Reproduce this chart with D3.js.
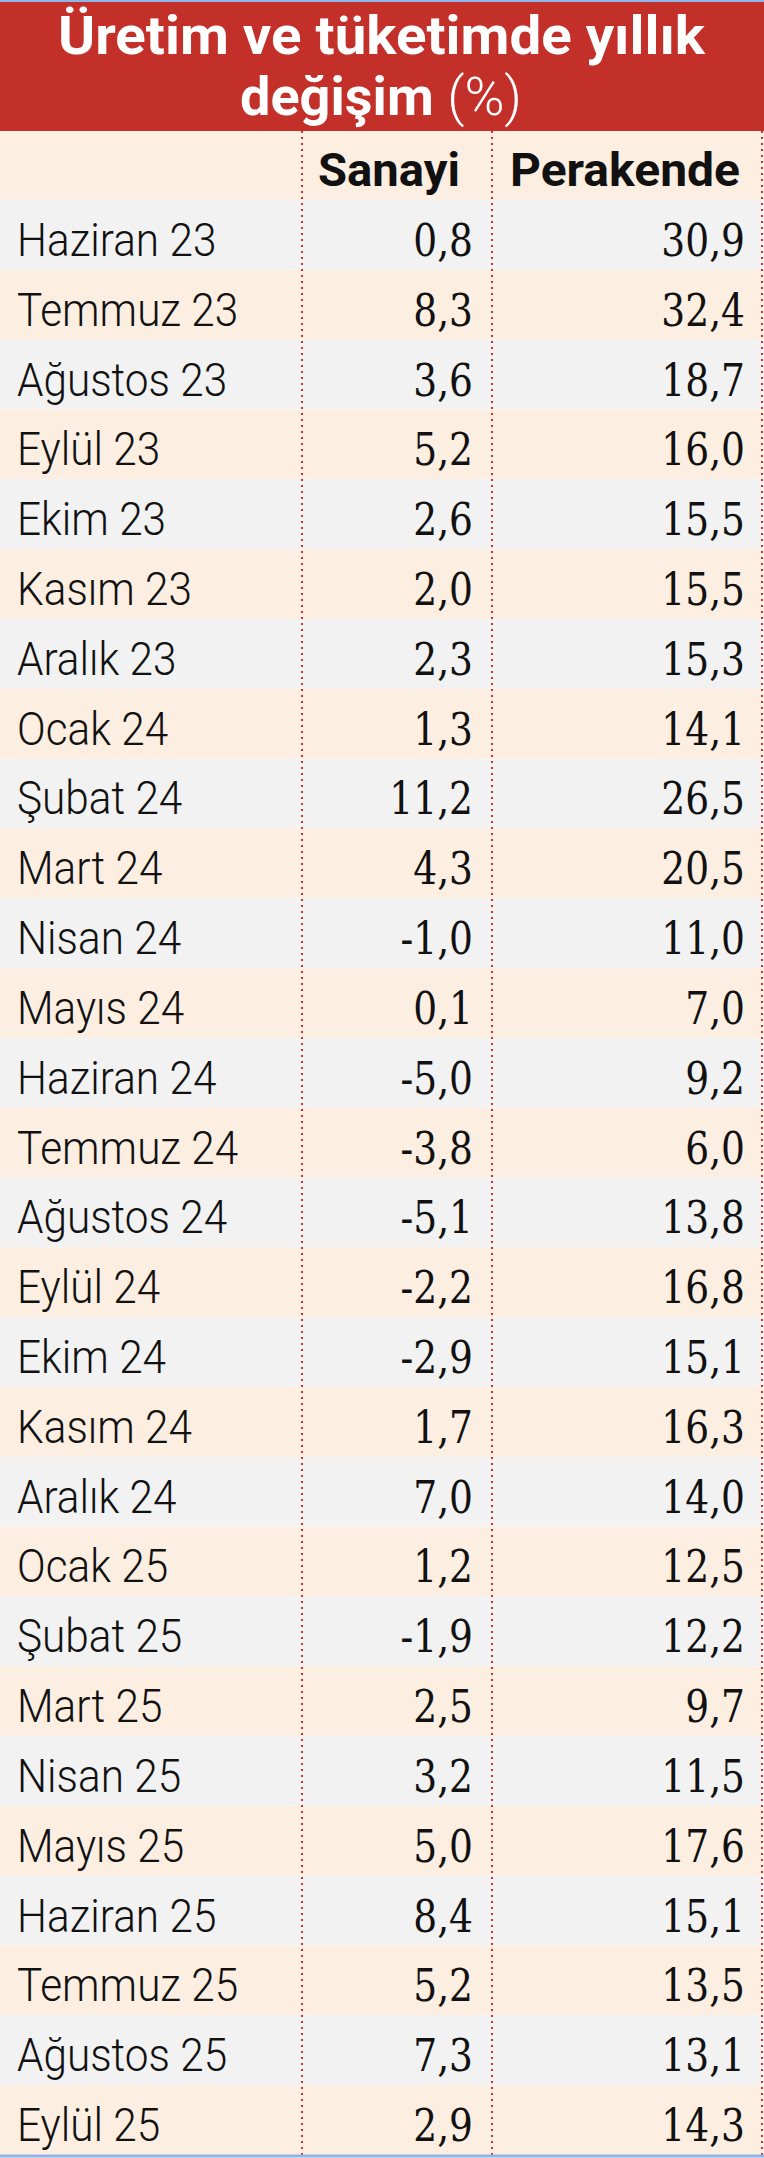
<!DOCTYPE html>
<html><head><meta charset="utf-8">
<script src="https://cdn.jsdelivr.net/npm/d3@7"></script>
<style>body{margin:0;background:#fff}</style></head>
<body><svg id="c" width="764" height="2158"></svg>
<script>
const titleLines = ["Üretim ve tüketimde yıllık", "değişim"];
const columns = ["Sanayi", "Perakende"];
const months = ["Haziran 23","Temmuz 23","Ağustos 23","Eylül 23","Ekim 23","Kasım 23","Aralık 23","Ocak 24","Şubat 24","Mart 24","Nisan 24","Mayıs 24","Haziran 24","Temmuz 24","Ağustos 24","Eylül 24","Ekim 24","Kasım 24","Aralık 24","Ocak 25","Şubat 25","Mart 25","Nisan 25","Mayıs 25","Haziran 25","Temmuz 25","Ağustos 25","Eylül 25"];
const sanayi = [0.8,8.3,3.6,5.2,2.6,2.0,2.3,1.3,11.2,4.3,-1.0,0.1,-5.0,-3.8,-5.1,-2.2,-2.9,1.7,7.0,1.2,-1.9,2.5,3.2,5.0,8.4,5.2,7.3,2.9];
const perakende = [30.9,32.4,18.7,16.0,15.5,15.5,15.3,14.1,26.5,20.5,11.0,7.0,9.2,6.0,13.8,16.8,15.1,16.3,14.0,12.5,12.2,9.7,11.5,17.6,15.1,13.5,13.1,14.3];

const svg = d3.select("#c");
const W = 764, top0 = 200, bottom = 2155;
const y = d3.scaleBand().domain(months).range([top0, bottom]);
const fmt = v => v.toFixed(1).replace(".", ",");

svg.append("rect").attr("x",0).attr("y",0).attr("width",W).attr("height",131).attr("fill","#c3302a");
svg.append("rect").attr("x",0).attr("y",131).attr("width",W).attr("height",top0-131).attr("fill","#fdeee2");
svg.append("line").attr("x1",0).attr("x2",W).attr("y1",1).attr("y2",1).attr("stroke","#8fb4ea").attr("stroke-width",2);

const t = svg.append("g").attr("fill","#fff").attr("font-family","Roboto, 'Liberation Sans', sans-serif").attr("font-weight",700).attr("font-size",54);
t.append("text").attr("x",58).attr("y",54).attr("textLength",647).attr("lengthAdjust","spacingAndGlyphs").text(titleLines[0]);
const t2 = t.append("text").attr("x",240).attr("y",115).attr("textLength",282).attr("lengthAdjust","spacingAndGlyphs");
t2.append("tspan").text(titleLines[1] + " ");
t2.append("tspan").attr("font-weight",300).text("(%)");

svg.selectAll("rect.row").data(months).join("rect").attr("class","row")
  .attr("x",0).attr("width",W).attr("y",d=>y(d)).attr("height",y.bandwidth())
  .attr("fill",(d,i)=> i%2===0 ? "#f2f2f2" : "#fdeee2");

const hdr = svg.append("g").attr("font-family","Roboto, 'Liberation Sans', sans-serif").attr("font-weight",700).attr("font-size",46).attr("fill","#111");
hdr.append("text").attr("x",318).attr("y",186).attr("textLength",142).attr("lengthAdjust","spacingAndGlyphs").text(columns[0]);
hdr.append("text").attr("x",510).attr("y",186).attr("textLength",230).attr("lengthAdjust","spacingAndGlyphs").text(columns[1]);

const lab = svg.append("g").attr("font-family","Roboto, 'Liberation Sans', sans-serif").attr("font-weight",300).attr("font-size",46).attr("fill","#111");
months.forEach(m=>{
  lab.append("text").attr("transform",`translate(17,${y(m)+y.bandwidth()*0.8}) scale(0.92,1)`).text(m);
});
const val = svg.append("g").attr("font-family","'DejaVu Serif Condensed','DejaVu Serif',serif").attr("font-size",44).attr("fill","#111").attr("text-anchor","end");
months.forEach((m,i)=>{
  val.append("text").attr("transform",`translate(473,${y(m)+y.bandwidth()*0.8}) scale(0.95,1)`).text(fmt(sanayi[i]));
  val.append("text").attr("transform",`translate(745,${y(m)+y.bandwidth()*0.8}) scale(0.95,1)`).text(fmt(perakende[i]));
});

[302,492,762].forEach(x=>{
  svg.append("line").attr("x1",x).attr("x2",x).attr("y1",131).attr("y2",bottom)
    .attr("stroke","#d0312b").attr("stroke-width",2).attr("stroke-dasharray","2,4");
});
svg.append("line").attr("x1",0).attr("x2",W).attr("y1",2156).attr("y2",2156).attr("stroke","#8fb4ea").attr("stroke-width",3);
</script></body></html>
